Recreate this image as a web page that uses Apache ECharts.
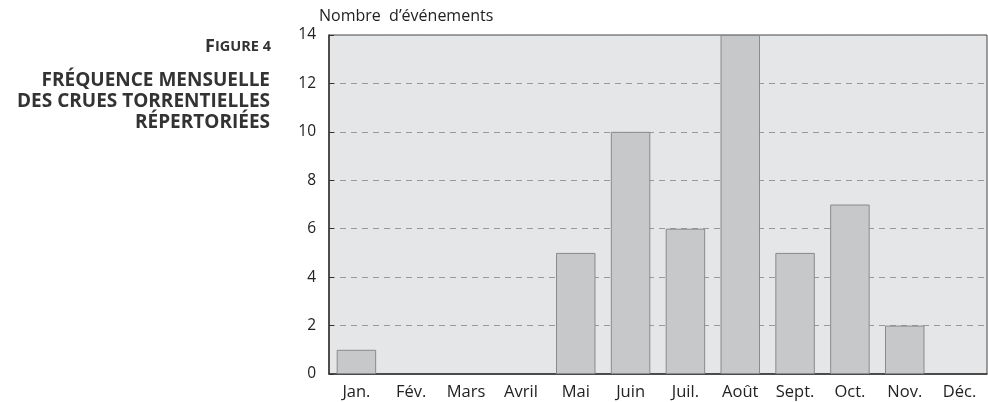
<!DOCTYPE html>
<html>
<head>
<meta charset="utf-8">
<script src="https://cdn.jsdelivr.net/npm/echarts@6/dist/echarts.min.js"></script>
<style>html,body{margin:0;padding:0;background:#fff;}#c{width:988px;height:402px;}</style>
</head>
<body>
<div id="c"></div>
<script>
const months = ['Jan.', 'Fév.', 'Mars', 'Avril', 'Mai', 'Juin', 'Juil.', 'Août', 'Sept.', 'Oct.', 'Nov.', 'Déc.'];
const events = [1, 0, 0, 0, 5, 10, 6, 14, 5, 7, 2, 0];
const yTicks = { min: 0, max: 14, interval: 2 };
const yName = 'Nombre  d\u2019événements';
const titleLines = ['FRÉQUENCE MENSUELLE', 'DES CRUES TORRENTIELLES', 'RÉPERTORIÉES'];

const font = '"Open Sans", "Noto Sans", sans-serif';
const chart = echarts.init(document.getElementById('c'), null, { renderer: 'canvas' });
chart.setOption({
  animation: false,
  textStyle: { fontFamily: font },
  title: [
    {
      text: '{a|F}{b|IGURE 4}',
      left: 271, top: 38, textAlign: 'right', padding: 0,
      textStyle: {
        rich: {
          a: { fontFamily: font, fontWeight: 'bold', fontSize: 18, color: '#333' },
          b: { fontFamily: font, fontWeight: 'bold', fontSize: 14.5, color: '#333' }
        }
      }
    },
    {
      text: titleLines.join('\n'),
      left: 270, top: 70, textAlign: 'right', padding: 0,
      textStyle: { fontFamily: font, fontWeight: 'bold', fontSize: 19, color: '#333', lineHeight: 21 }
    }
  ],
  grid: {
    left: 329, right: 1, top: 35, bottom: 28,
    show: true, backgroundColor: '#e5e6e8', borderColor: '#444', borderWidth: 1
  },
  xAxis: {
    type: 'category',
    data: months,
    axisLine: { lineStyle: { color: '#333', width: 1.5 } },
    axisTick: { inside: true, length: 5, lineStyle: { color: '#333' } },
    axisLabel: { color: '#222', fontSize: 16.5, margin: 10, fontFamily: font }
  },
  yAxis: {
    type: 'value',
    min: yTicks.min, max: yTicks.max, interval: yTicks.interval,
    name: yName,
    nameLocation: 'end',
    nameGap: 11,
    nameTextStyle: { color: '#222', fontSize: 16, align: 'left', padding: [0, 0, 0, -10], fontFamily: font },
    axisLine: { show: true, lineStyle: { color: '#333', width: 1.5 } },
    axisTick: { show: true, inside: true, length: 5, lineStyle: { color: '#333' } },
    axisLabel: { color: '#222', fontSize: 15.5, margin: 13, fontFamily: font },
    splitLine: { show: true, lineStyle: { color: '#999', type: [6, 5], width: 1 } }
  },
  series: [{
    type: 'bar',
    data: events.map(v => (v === 0 ? '-' : v)),
    barWidth: '72%',
    itemStyle: { color: '#c7c8ca', borderColor: '#8a8a8a', borderWidth: 1 }
  }]
});
</script>
</body>
</html>
